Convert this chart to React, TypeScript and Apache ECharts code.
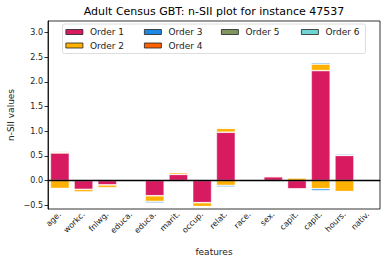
import React, { useEffect, useRef } from "react";
import * as echarts from "echarts";

const features = ["age.", "workc.", "fnlwg.", "educa.", "educa.", "marit.", "occup.", "relat.", "race.", "sex.", "capit.", "capit.", "hours.", "nativ."];
const orderNames = ["Order 1", "Order 2", "Order 3", "Order 4", "Order 5", "Order 6"];
const orderColors = ["#d81b60", "#ffb000", "#1e88e5", "#fe6100", "#7f975f", "#70d4d2"];

const order1Pos = [0.56, 0, 0, 0, 0, 0.125, 0, 0.98, 0, 0.077, 0, 2.23, 0.51, 0];
const order1Neg = [0, -0.18, -0.09, 0, -0.31, 0, -0.45, 0, 0, 0, -0.17, 0, 0, 0];
const order2Pos = [0.02, 0, 0, 0, 0, 0.035, 0, 0.08, 0, 0.02, 0.05, 0.13, 0, 0];
const order2Neg = [-0.16, -0.055, -0.055, 0, -0.115, -0.02, -0.08, -0.1, 0, 0, -0.01, -0.165, -0.225, 0];
const order3Pos = [0.02, 0, 0.02, 0, 0, 0, 0, 0, 0, 0, 0, 0.03, 0.025, 0];
const order3Neg = [0, -0.01, 0, 0, -0.035, 0, 0, -0.03, 0, 0, 0, -0.04, -0.01, 0];
const order4Pos = [0.005, 0, 0, 0, 0, 0.01, 0, 0.005, 0, 0.01, 0, 0.005, 0, 0];
const order4Neg = [0, 0, 0, 0, 0, 0, 0, 0, 0, 0, -0.005, 0, 0, 0];
const order5Pos = [0, 0, 0, 0, 0.01, 0, 0.01, 0, 0, 0, 0, 0, 0, 0];
const order5Neg = [-0.01, 0, 0, 0, 0, -0.01, 0, 0, 0, -0.02, 0, 0, 0, 0];
const order6Pos = [0.01, 0, 0.005, 0, 0, 0, 0, 0.02, 0, 0, 0, 0, 0, 0];
const order6Neg = [0, -0.015, 0, 0, 0, 0, 0, 0, 0, 0, 0, 0, -0.01, 0];

const posData = [order1Pos, order2Pos, order3Pos, order4Pos, order5Pos, order6Pos];
const negData = [order1Neg, order2Neg, order3Neg, order4Neg, order5Neg, order6Neg];
const yTicks = [-0.5, 0, 0.5, 1.0, 1.5, 2.0, 2.5, 3.0];

const FONT = "DejaVu Sans";

export default function App() {
  const ref = useRef<HTMLDivElement>(null);
  useEffect(() => {
    if (!ref.current) return;
    const chart = echarts.init(ref.current, null, { renderer: "svg" });
    const series: any[] = [];
    orderNames.forEach((name, i) => {
      [posData[i], negData[i]].forEach((d) => {
        series.push({
          type: "bar",
          name,
          stack: "all",
          data: d,
          barWidth: "80%",
          itemStyle: {
            color: orderColors[i],
            borderColor: "rgba(255,255,255,0.5)",
            borderWidth: 0.8,
          },
        });
      });
    });
    series[series.length - 1].markLine = {
      silent: true,
      symbol: "none",
      label: { show: false },
      lineStyle: { color: "#000", width: 1.3, type: "solid" },
      data: [{ yAxis: 0 }],
    };
    const cols = [
      { left: 65.5, names: ["Order 1", "Order 2"] },
      { left: 144, names: ["Order 3", "Order 4"] },
      { left: 221, names: ["Order 5"] },
      { left: 301, names: ["Order 6"] },
    ];
    const legends = cols.map((c) => ({
      orient: "vertical",
      left: c.left,
      top: 26.5,
      padding: 0,
      itemWidth: 17,
      itemHeight: 5,
      itemGap: 2.5,
      icon: "rect",
      z: 10,
      data: c.names,
      itemStyle: { borderColor: "#222", borderWidth: 0.8 },
      textStyle: { fontFamily: FONT, fontSize: 9, color: "#222", lineHeight: 11, padding: [0, 0, 0, 2] },
      selectedMode: false,
    }));
    chart.setOption({
      animation: false,
      grid: { left: 48, right: 7, top: 21, bottom: 54, show: true, borderColor: "#000", borderWidth: 0.8, backgroundColor: "transparent" },
      legend: legends,
      xAxis: {
        type: "category",
        data: features,
        axisLine: { lineStyle: { color: "#000", width: 0.8 } },
        axisTick: { alignWithLabel: true, length: 3.5, lineStyle: { color: "#000", width: 0.8 } },
        axisLabel: { rotate: 45, fontFamily: FONT, fontSize: 8, color: "#222", margin: 4, interval: 0 },
      },
      yAxis: {
        type: "value",
        min: -0.578,
        max: 3.235,
        splitLine: { show: false },
        axisLine: { show: true, lineStyle: { color: "#000", width: 0.8 } },
        axisTick: { show: true, length: 3.5, customValues: yTicks, lineStyle: { color: "#000", width: 0.8 } },
        axisLabel: {
          customValues: yTicks,
          fontFamily: FONT,
          fontSize: 8,
          color: "#222",
          margin: 5,
          formatter: (v: number) => v.toFixed(1).replace("-", "\u2212"),
        },
      },
      graphic: [
        {
          type: "rect",
          z: 5,
          shape: { x: 62.5, y: 24, width: 303, height: 29.5, r: 2 },
          style: { fill: "rgba(255,255,255,0.8)", stroke: "#d5d5d5", lineWidth: 0.8 },
        },
        {
          type: "text",
          x: 214,
          y: 11,
          style: { text: "Adult Census GBT: n-SII plot for instance 47537", fontFamily: FONT, fontSize: 11, fill: "#000", textAlign: "center", textVerticalAlign: "middle" },
        },
        {
          type: "text",
          x: 214,
          y: 252,
          style: { text: "features", fontFamily: FONT, fontSize: 9, fill: "#222", textAlign: "center", textVerticalAlign: "middle" },
        },
        {
          type: "text",
          x: 11,
          y: 115,
          rotation: Math.PI / 2,
          style: { text: "n-SII values", fontFamily: FONT, fontSize: 9, fill: "#222", textAlign: "center", textVerticalAlign: "middle" },
        },
      ],
      series,
    });
    return () => chart.dispose();
  }, []);
  return <div ref={ref} style={{ width: 387, height: 263, position: "absolute", left: 0, top: 0 }} />;
}
